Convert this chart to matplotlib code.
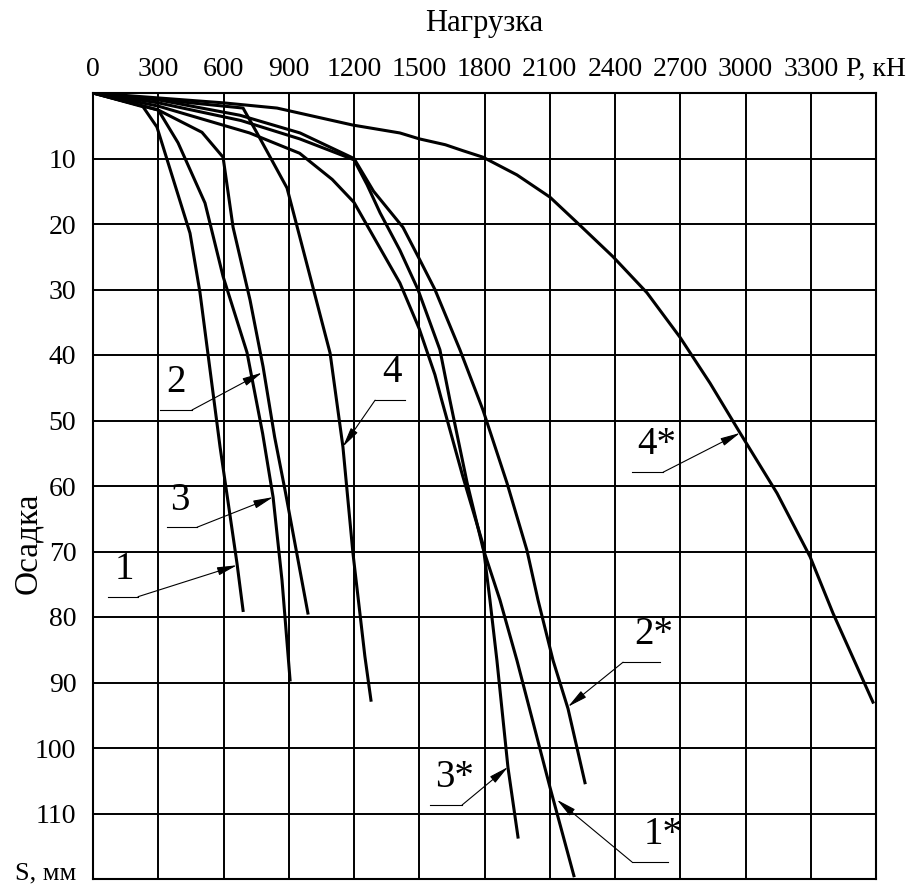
import matplotlib.pyplot as plt

plt.rcParams['font.family'] = ['Liberation Serif', 'DejaVu Serif']

# axis ticks
load_ticks = [0, 300, 600, 900, 1200, 1500, 1800, 2100, 2400, 2700, 3000, 3300, 3600]
load_tick_labels = ['0', '300', '600', '900', '1200', '1500', '1800', '2100',
                    '2400', '2700', '3000', '3300', 'P, кН']
settle_ticks = [10, 20, 30, 40, 50, 60, 70, 80, 90, 100, 110, 120]
settle_tick_labels = ['10', '20', '30', '40', '50', '60', '70', '80', '90',
                      '100', '110', 'S, мм']

# load P (kN) and settlement S (mm) for each test curve
p_1 = [0, 230, 294, 446, 492, 584, 662, 690]
s_1 = [0, 2.1, 5.2, 21.4, 30.5, 54, 71.8, 79]

p_2 = [0, 300, 501, 598, 644, 722, 782, 835, 885, 988]
s_2 = [0, 2.6, 6.0, 9.8, 20.5, 31.6, 41.8, 52.5, 61, 79.4]

p_3 = [0, 300, 391, 515, 598, 708, 780, 828, 869, 906]
s_3 = [0, 2.6, 7.6, 16.8, 28, 39.6, 52, 61.7, 74.4, 89.6]

p_4 = [0, 690, 754, 892, 1090, 1149, 1195, 1250, 1278]
s_4 = [0, 2.3, 6.1, 14.5, 39.7, 54, 70.2, 86, 92.7]

p_1s = [0, 300, 680, 950, 1200, 1260, 1320, 1411, 1494, 1595, 1641, 1720,
        1793, 1871, 1949, 2101, 2211]
s_1s = [0, 1.5, 4.2, 7.0, 10.2, 14, 18.3, 24, 30, 39.2, 46.9, 59.5,
        69.5, 77.4, 86.6, 106, 119.5]

p_2s = [0, 308, 676, 952, 1200, 1290, 1425, 1503, 1572, 1687, 1793, 1903,
        1995, 2046, 2115, 2184, 2262]
s_2s = [0, 1.1, 3.4, 6.1, 10, 15, 20.5, 25.5, 30, 39.2, 48.4, 59.5,
        69.8, 77.4, 86.6, 94, 105.3]

p_3s = [0, 300, 720, 950, 1100, 1200, 1320, 1411, 1500, 1572, 1600, 1700,
        1793, 1825, 1857, 1908, 1954]
s_3s = [0, 2.0, 6.1, 9.2, 13.2, 16.7, 23.7, 29, 36, 43, 46.5, 58.5,
        68.9, 77.4, 86.6, 103, 113.6]

p_4s = [0, 598, 846, 1195, 1411, 1500, 1620, 1700, 1793, 1949, 2101, 2239,
        2391, 2547, 2699, 2837, 2975, 3145, 3297, 3402, 3540, 3586]
s_4s = [0, 1.5, 2.3, 4.9, 6.1, 7.0, 7.9, 8.8, 9.8, 12.5, 15.9, 20.2,
        25, 30.5, 37.3, 44.3, 51.9, 61.1, 70.8, 79.4, 89.6, 93.0]

curves = [(p_1, s_1), (p_2, s_2), (p_3, s_3), (p_4, s_4),
          (p_1s, s_1s), (p_2s, s_2s), (p_3s, s_3s), (p_4s, s_4s)]

# curve labels: text, text position, underline (x0, x1, y), leader start, arrow tip
label_texts = ['1', '2', '3', '4', '1*', '2*', '3*', '4*']
label_pos = [(143, 75.5), (380, 47.0), (400, 65.0), (1375, 45.5),
             (2620, 116.0), (2580, 85.5), (1660, 107.3), (2590, 56.5)]
underlines = [(69, 207, 76.9), (308, 455, 48.4), (340, 478, 66.3), (1297, 1434, 46.9),
              (2478, 2644, 117.4), (2437, 2607, 86.9), (1549, 1697, 108.7), (2478, 2621, 57.9)]
leader_start = [(207, 76.9), (455, 48.4), (478, 66.3), (1297, 46.9),
                (2478, 117.4), (2437, 86.9), (1697, 108.7), (2621, 57.9)]
arrow_tips = [(662, 72.1), (777, 42.7), (828, 61.7), (1149, 54),
              (2133, 107.9), (2184, 93.7), (1908, 102.9), (2975, 51.9)]

fig = plt.figure(figsize=(9.18, 8.92), dpi=100)
ax = fig.add_axes([93 / 918, 1 - 879 / 892, (876 - 93) / 918, (879 - 93) / 892])

ax.set_xlim(0, 3600)
ax.set_ylim(120, 0)
ax.xaxis.tick_top()
ax.set_xticks(load_ticks, load_tick_labels)
ax.set_yticks(settle_ticks, settle_tick_labels)
ax.tick_params(axis='both', length=0, labelsize=20)
ax.tick_params(axis='x', pad=8)
ax.tick_params(axis='y', pad=12)
ax.grid(True, color='black', linewidth=1.4)
ax.set_axisbelow(True)
for spine in ax.spines.values():
    spine.set_linewidth(1.5)

# keep the unit label of the settlement axis inside the picture
unit_label = ax.get_yticklabels()[-1]
unit_label.set_verticalalignment('baseline')
unit_label.set_fontsize(19)

for p, s in curves:
    ax.plot(p, s, color='black', linewidth=2.2)

for text, pos, ul, start, tip in zip(label_texts, label_pos, underlines,
                                     leader_start, arrow_tips):
    ax.text(pos[0], pos[1], text, ha='center', va='bottom', fontsize=28)
    ax.plot([ul[0], ul[1]], [ul[2], ul[2]], color='black', linewidth=0.8)
    ax.annotate('', xy=tip, xytext=start,
                arrowprops=dict(arrowstyle='-|>,head_length=1.2,head_width=0.25',
                                color='black', lw=0.8, shrinkA=0, shrinkB=0))

fig.text(484 / 918, 1 - 24 / 892, 'Нагрузка', ha='center', va='center', fontsize=22)
fig.text(28 / 918, 1 - 543 / 892, 'Осадка', rotation=90, ha='center', va='center',
         fontsize=24)

plt.savefig('out.png', dpi=100)
